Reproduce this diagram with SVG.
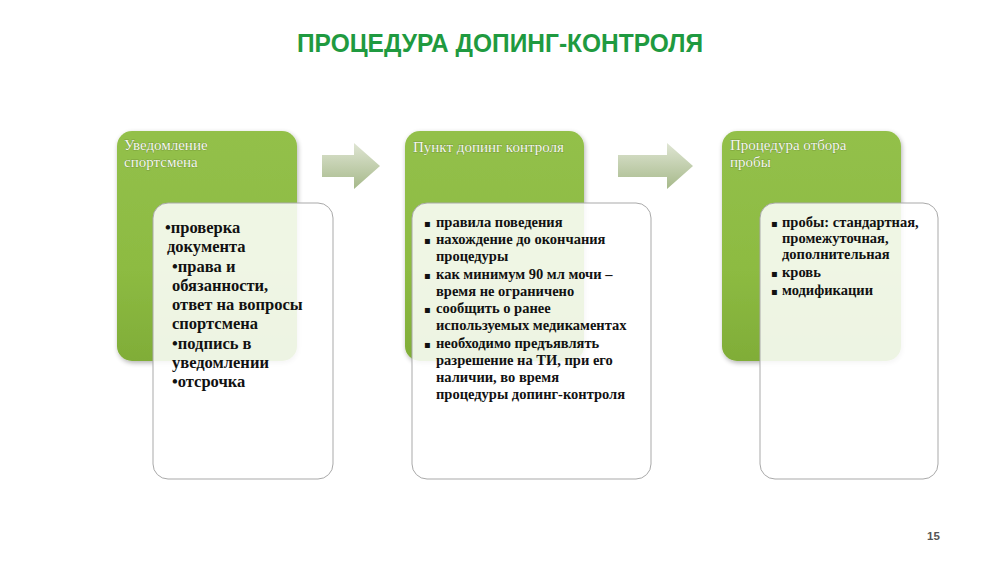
<svg xmlns="http://www.w3.org/2000/svg" width="1000" height="562" viewBox="0 0 1000 562">
<defs>
<linearGradient id="gGreen" x1="0" y1="0" x2="0" y2="1">
<stop offset="0" stop-color="#93c04a"/>
<stop offset="0.6" stop-color="#8dbb42"/>
<stop offset="1" stop-color="#80ad38"/>
</linearGradient>
<linearGradient id="gArrow" x1="0" y1="0" x2="0" y2="1">
<stop offset="0" stop-color="#dfe5d3"/>
<stop offset="1" stop-color="#a6b98a"/>
</linearGradient>
<filter id="sh" x="-10%" y="-10%" width="125%" height="125%">
<feGaussianBlur in="SourceAlpha" stdDeviation="2.5"/>
<feOffset dx="1" dy="2" result="b"/>
<feComponentTransfer><feFuncA type="linear" slope="0.3"/></feComponentTransfer>
<feMerge><feMergeNode/><feMergeNode in="SourceGraphic"/></feMerge>
</filter>
<style>
.green{fill:url(#gGreen);filter:url(#sh)}
.card{fill:#ffffff;fill-opacity:0.86;stroke:#a9a9a9;stroke-width:1}
.arrow{fill:url(#gArrow)}
.head{font-family:"Liberation Serif",serif;font-size:15px;fill:#f4f7ee;stroke:#5f7f2a;stroke-width:0.5;paint-order:stroke}
.b1{font-family:"Liberation Serif",serif;font-weight:bold;font-size:16.5px;fill:#111}
.b2{font-family:"Liberation Serif",serif;font-weight:bold;font-size:14.5px;fill:#111}
.bul{font-family:"DejaVu Sans",sans-serif;font-size:10px;fill:#111}
.title{font-family:"Liberation Sans",Arial,sans-serif;font-weight:bold;font-size:26px;fill:#1f9a40}
.pg{font-family:"Liberation Sans",Arial,sans-serif;font-weight:bold;font-size:11.5px;fill:#555}
</style>
</defs>
<rect width="1000" height="562" fill="#ffffff"/>
<text class="title" x="500" y="52" text-anchor="middle" textLength="406" lengthAdjust="spacingAndGlyphs">ПРОЦЕДУРА ДОПИНГ-КОНТРОЛЯ</text>

<g id="connectors">
<path class="arrow" d="M322,155 H354 V143 L380,166 L354,189 V177 H322 Z"/>
<path class="arrow" d="M618,155 H667 V143 L693,166 L667,189 V177 H618 Z"/>
</g>

<g id="node1">
<rect class="green" x="117" y="131" width="180" height="230" rx="15"/>
<text class="head" x="124" y="150">Уведомление</text>
<text class="head" x="124" y="167">спортсмена</text>
<rect class="card" x="153" y="203" width="180" height="276" rx="15"/>
<text class="b1">
<tspan x="165" y="233">•проверка</tspan>
<tspan x="167" y="252">документа</tspan>
<tspan x="172" y="272">•права и</tspan>
<tspan x="172" y="291">обязанности,</tspan>
<tspan x="172" y="310">ответ на вопросы</tspan>
<tspan x="172" y="329">спортсмена</tspan>
<tspan x="172" y="349">•подпись в</tspan>
<tspan x="172" y="368">уведомлении</tspan>
<tspan x="172" y="387">•отсрочка</tspan>
</text>
</g>

<g id="node2">
<rect class="green" x="405" y="131" width="179" height="230" rx="15"/>
<text class="head" x="413" y="152">Пункт допинг контроля</text>
<rect class="card" x="412" y="203" width="239" height="276" rx="15"/>
<g class="bul">
<text x="424" y="227">▪</text>
<text x="424" y="244">▪</text>
<text x="424" y="279">▪</text>
<text x="424" y="313">▪</text>
<text x="424" y="348">▪</text>
</g>
<text class="b2">
<tspan x="436" y="227">правила поведения</tspan>
<tspan x="436" y="244">нахождение до окончания</tspan>
<tspan x="436" y="261">процедуры</tspan>
<tspan x="436" y="279">как минимум 90 мл мочи –</tspan>
<tspan x="436" y="296">время не ограничено</tspan>
<tspan x="436" y="313">сообщить о ранее</tspan>
<tspan x="436" y="330">используемых медикаментах</tspan>
<tspan x="436" y="348">необходимо предъявлять</tspan>
<tspan x="436" y="365">разрешение на ТИ, при его</tspan>
<tspan x="436" y="382">наличии, во время</tspan>
<tspan x="436" y="399">процедуры допинг-контроля</tspan>
</text>
</g>

<g id="node3">
<rect class="green" x="722" y="131" width="179" height="230" rx="15"/>
<text class="head" x="730" y="150">Процедура отбора</text>
<text class="head" x="730" y="167">пробы</text>
<rect class="card" x="760" y="203" width="178" height="276" rx="15"/>
<g class="bul">
<text x="771" y="227">▪</text>
<text x="771" y="277">▪</text>
<text x="771" y="295">▪</text>
</g>
<text class="b2">
<tspan x="782" y="227">пробы: стандартная,</tspan>
<tspan x="782" y="243">промежуточная,</tspan>
<tspan x="782" y="259">дополнительная</tspan>
<tspan x="782" y="277">кровь</tspan>
<tspan x="782" y="295">модификации</tspan>
</text>
</g>

<text class="pg" x="927" y="540">15</text>
</svg>
